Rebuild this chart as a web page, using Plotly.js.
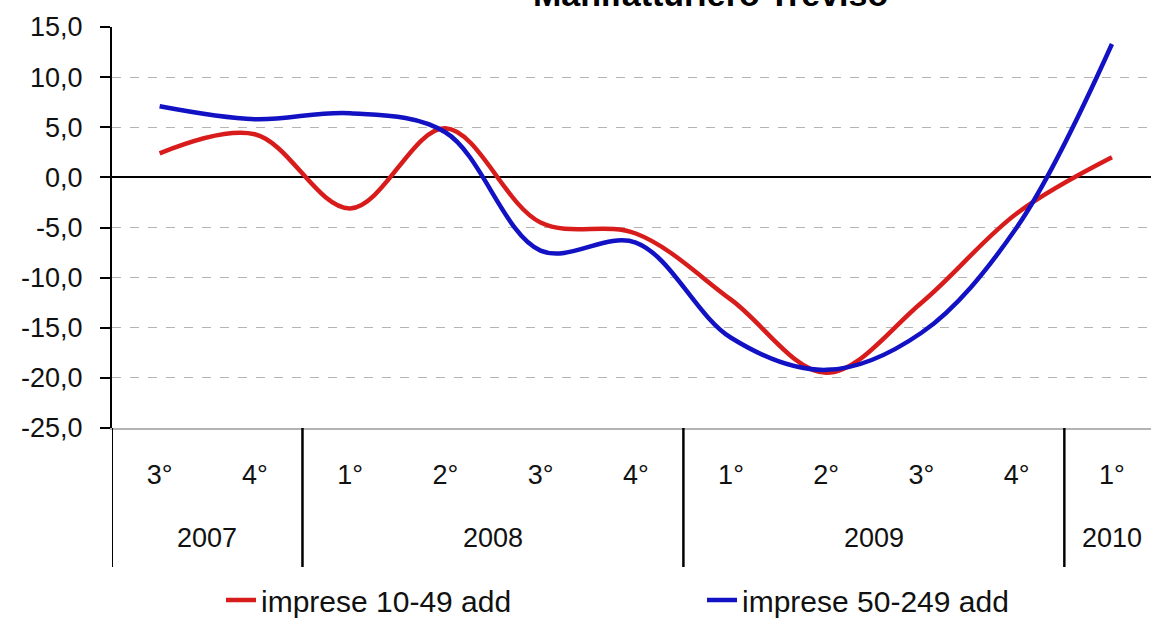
<!DOCTYPE html>
<html>
<head>
<meta charset="utf-8">
<script src="https://cdn.plot.ly/plotly-3.0.1.min.js"></script>
<style>
  html, body { margin: 0; padding: 0; background: #fff; overflow: hidden; }
  #chart { width: 1151px; height: 620px; }
</style>
</head>
<body>
<div id="chart"></div>
<script>
const years    = ['2007', '2007', '2008', '2008', '2008', '2008', '2009', '2009', '2009', '2009', '2010'];
const quarters = ['3°', '4°', '1°', '2°', '3°', '4°', '1°', '2°', '3°', '4°', '1°'];

const small  = [2.4, 4.3, -3.1, 4.9, -4.5, -5.6, -12.2, -19.5, -12.5, -3.6, 2.0];   // imprese 10-49 add
const medium = [7.1, 5.8, 6.4, 4.5, -7.3, -6.5, -16.0, -19.2, -15.5, -5.0, 13.3];   // imprese 50-249 add

const yTicks  = [-25, -20, -15, -10, -5, 0, 5, 10, 15];
const yLabels = ['-25,0', '-20,0', '-15,0', '-10,0', '-5,0', '0,0', '5,0', '10,0', '15,0'];

const FONT = 'Liberation Sans, Arial, sans-serif';
const idx = quarters.map((q, i) => i);

// year groups -> label in the middle, dividers at the edges
const groups = [];
years.forEach((y, i) => {
    const last = groups[groups.length - 1];
    if (last && last.year === y) last.end = i;
    else groups.push({ year: y, start: i, end: i });
});

const divBottom = -(567 - 428) / 401;

const annotations = groups.map(g => ({
    x: (g.start + g.end) / 2, xref: 'x',
    y: -(538 - 428) / 401, yref: 'paper',
    text: g.year, showarrow: false,
    xanchor: 'center', yanchor: 'middle',
    font: { family: FONT, size: 27, color: '#111' }
}));
annotations.push({
    x: (710 - 112) / 1039, xref: 'paper',
    y: (428 + 6) / 401, yref: 'paper',
    text: '<b>Manifatturiero Treviso</b>', showarrow: false,
    xanchor: 'center', yanchor: 'middle',
    font: { family: FONT, size: 34, color: '#000' }
});

const shapes = [];
groups.forEach(g => {
    [g.start - 0.5, g.end + 0.5].forEach(xv => {
        shapes.push({ type: 'line', xref: 'x', yref: 'paper',
                      x0: xv, x1: xv, y0: 0, y1: divBottom,
                      line: { color: '#000', width: 2 } });
    });
});

const traces = [
    { x: idx, y: small, type: 'scatter', mode: 'lines',
      line: { color: '#d81c1c', width: 4.5, shape: 'spline', smoothing: 1 },
      name: 'imprese 10-49 add' },
    { x: idx, y: medium, type: 'scatter', mode: 'lines',
      line: { color: '#1212c4', width: 4.5, shape: 'spline', smoothing: 1 },
      name: 'imprese 50-249 add' }
];

const layout = {
    width: 1151,
    height: 620,
    margin: { t: 27, r: 0, b: 192, l: 112 },
    paper_bgcolor: '#fff',
    plot_bgcolor: '#fff',
    font: { family: FONT, color: '#111' },
    xaxis: {
        range: [-0.5, 10.41],
        tickmode: 'array',
        tickvals: idx,
        ticktext: quarters,
        showgrid: false,
        zeroline: false,
        showline: true,
        linecolor: '#b4b4b4',
        linewidth: 2,
        ticks: '',
        ticklabelstandoff: 22,
        tickfont: { family: FONT, size: 27, color: '#111' }
    },
    yaxis: {
        range: [-25, 15],
        tickmode: 'array',
        tickvals: yTicks,
        ticktext: yLabels,
        showgrid: true,
        gridcolor: '#b4b4b4',
        griddash: 'dash',
        gridwidth: 1,
        zeroline: true,
        zerolinecolor: '#000',
        zerolinewidth: 2,
        showline: true,
        linecolor: '#000',
        linewidth: 2,
        ticks: 'outside',
        ticklen: 10,
        tickcolor: '#000',
        tickwidth: 2,
        ticklabelstandoff: 12,
        tickfont: { family: FONT, size: 27, color: '#111' }
    },
    annotations: annotations,
    shapes: shapes,
    showlegend: true,
    legend: {
        orientation: 'h',
        xref: 'container', yref: 'container',
        x: 0.192, xanchor: 'left',
        y: (620 - 574) / 620, yanchor: 'top',
        font: { family: FONT, size: 30, color: '#111' },
        entrywidth: 436,
        entrywidthmode: 'pixels',
        bgcolor: 'rgba(0,0,0,0)'
    }
};

Plotly.newPlot('chart', traces, layout, { displayModeBar: false, staticPlot: true });
</script>
</body>
</html>
